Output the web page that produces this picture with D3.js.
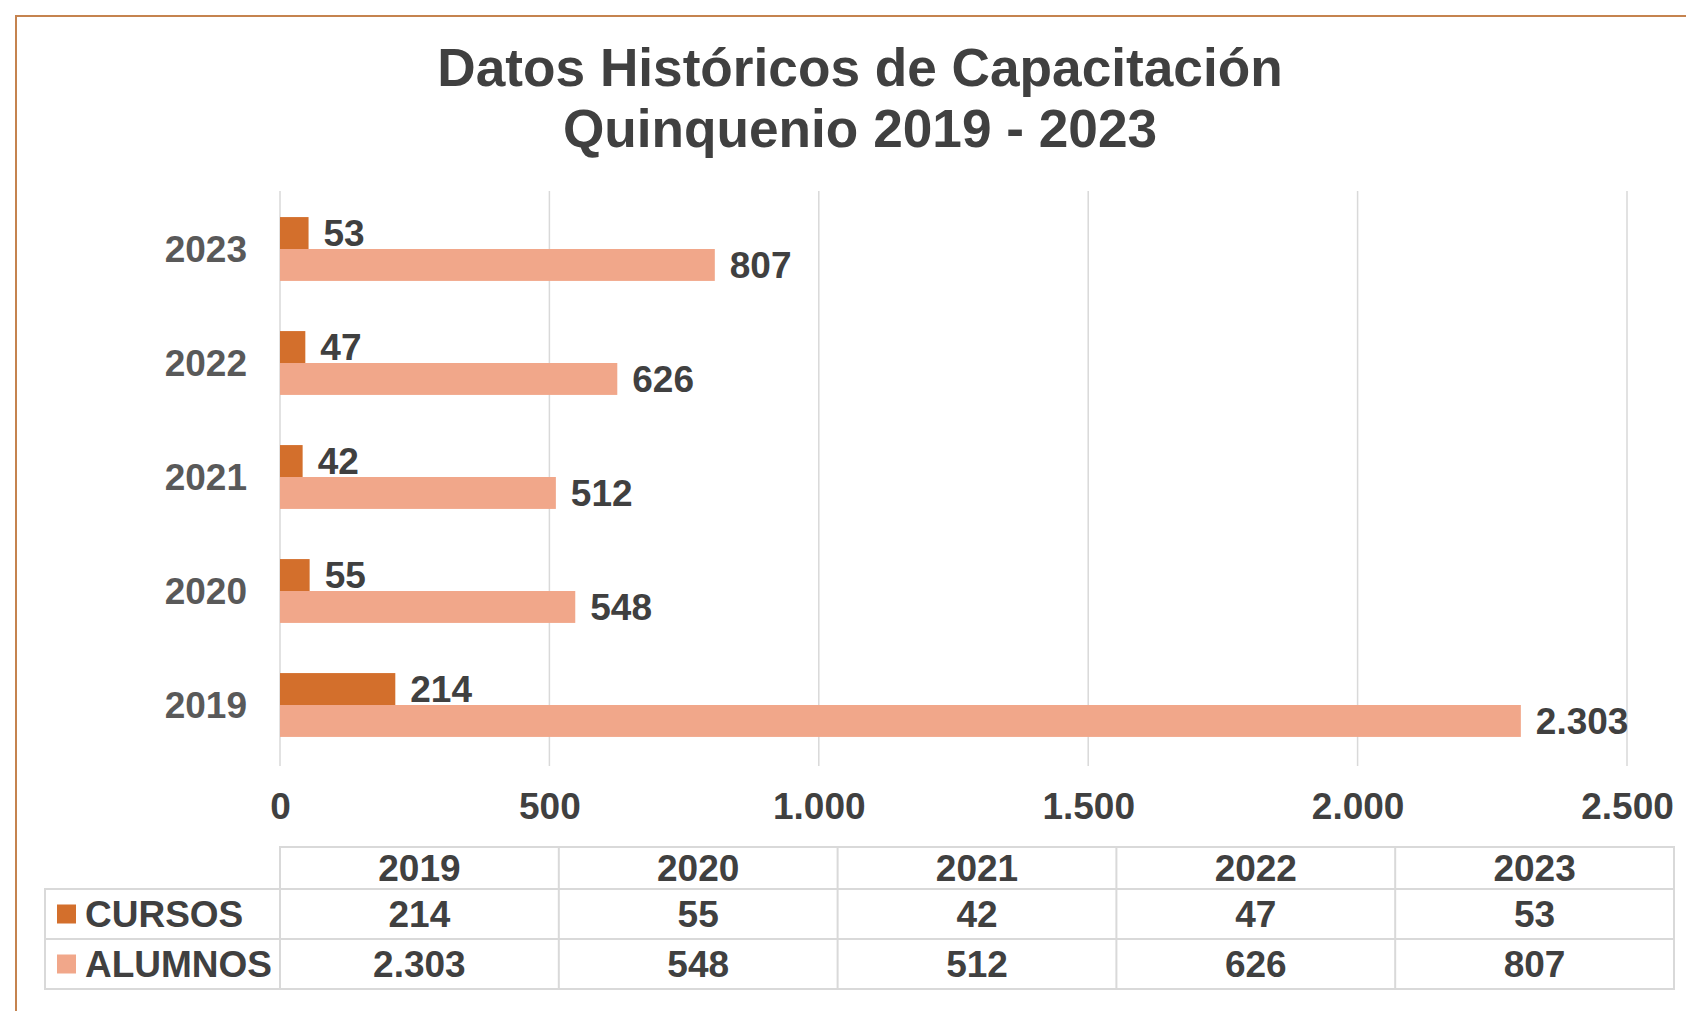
<!DOCTYPE html>
<html>
<head>
<meta charset="utf-8">
<script src="https://cdn.jsdelivr.net/npm/d3@7"></script>
<style>
html,body{margin:0;padding:0;background:#fff;}
svg{display:block;}
text{font-family:"Liberation Sans",Arial,sans-serif;font-weight:bold;}
</style>
</head>
<body>
<svg id="chart" width="1686" height="1011"></svg>
<script>
const titleLines = ["Datos Históricos de Capacitación", "Quinquenio 2019 - 2023"];
const years = ["2019", "2020", "2021", "2022", "2023"];
const seriesNames = ["CURSOS", "ALUMNOS"];
const cursos = [214, 55, 42, 47, 53];
const alumnos = [2303, 548, 512, 626, 807];
const xTicks = [0, 500, 1000, 1500, 2000, 2500];
const colors = ["#D36F2C", "#F1A78A"];

const svg = d3.select("#chart");
const W = 1686, H = 1011;
const FS = 37;
const locale = d3.formatLocale({decimal: ",", thousands: ".", grouping: [3], currency: ["", ""]});
const fmt = locale.format(",");

// frame
svg.append("rect").attr("x", 16).attr("y", 16).attr("width", W + 20).attr("height", H + 20)
  .attr("fill", "none").attr("stroke", "#C5834F").attr("stroke-width", 2);

// title
svg.append("g").selectAll("text").data(titleLines).join("text")
  .attr("x", 860).attr("y", (d, i) => 86 + i * 61)
  .attr("text-anchor", "middle").attr("font-size", 53.2).attr("fill", "#404040")
  .text(d => d);

const plotTop = 191, plotBottom = 766;
const x = d3.scaleLinear().domain([0, 2500]).range([280, 1627]);
const y = d3.scaleBand().domain(years.slice().reverse()).range([192, 762])
  .paddingInner(0.44).paddingOuter(0.22);
const y1 = d3.scaleBand().domain(seriesNames).range([0, y.bandwidth()]);

// grid
svg.append("g").selectAll("line").data(xTicks).join("line")
  .attr("x1", d => x(d)).attr("x2", d => x(d))
  .attr("y1", plotTop).attr("y2", plotBottom)
  .attr("stroke", "#D9D9D9").attr("stroke-width", 1.5);

// x axis labels
const xAxis = d3.axisBottom(x).tickValues(xTicks).tickFormat(fmt).tickSize(0).tickPadding(0);
const gx = svg.append("g").attr("transform", `translate(0,${plotBottom})`).call(xAxis);
gx.select(".domain").remove();
gx.selectAll("text").attr("font-size", FS).attr("fill", "#404040")
  .attr("font-family", null).attr("dy", null).attr("y", 53);

// y axis labels
const yAxis = d3.axisLeft(y).tickSize(0).tickPadding(0);
const gy = svg.append("g").attr("transform", `translate(247,0)`).call(yAxis);
gy.select(".domain").remove();
gy.selectAll("text").attr("font-size", FS).attr("fill", "#595959")
  .attr("font-family", null).attr("dy", "0.35em");

// bars
const rows = years.map((yr, i) => ({year: yr, values: [cursos[i], alumnos[i]]}));
const groups = svg.append("g").selectAll("g").data(rows).join("g")
  .attr("transform", d => `translate(0,${y(d.year)})`);
groups.selectAll("rect").data(d => d.values.map((v, k) => ({v, k}))).join("rect")
  .attr("x", x(0))
  .attr("y", d => y1(seriesNames[d.k]))
  .attr("width", d => x(d.v) - x(0))
  .attr("height", y1.bandwidth())
  .attr("fill", d => colors[d.k]);
groups.selectAll("text").data(d => d.values.map((v, k) => ({v, k}))).join("text")
  .attr("x", d => x(d.v) + 15)
  .attr("y", d => y1(seriesNames[d.k]) + y1.bandwidth() / 2)
  .attr("dy", "0.35em")
  .attr("font-size", FS).attr("fill", "#404040")
  .text(d => fmt(d.v));

// data table
const tLeft = 45, colX0 = 280, colW = 278.8;
const rowYs = [847, 889, 939, 989];
const tbl = svg.append("g").attr("stroke", "#D9D9D9").attr("stroke-width", 2).attr("fill", "none");
const colScale = d3.scaleBand().domain(years).range([colX0, colX0 + colW * years.length]);
tbl.append("rect").attr("x", colX0).attr("y", rowYs[0]).attr("width", colW * years.length).attr("height", rowYs[1] - rowYs[0]);
tbl.append("rect").attr("x", tLeft).attr("y", rowYs[1]).attr("width", colX0 + colW * years.length - tLeft).attr("height", rowYs[3] - rowYs[1]);
tbl.append("line").attr("x1", tLeft).attr("x2", colX0 + colW * years.length).attr("y1", rowYs[2]).attr("y2", rowYs[2]);
tbl.selectAll("line.c").data(years).join("line").attr("class", "c")
  .attr("x1", d => colScale(d)).attr("x2", d => colScale(d))
  .attr("y1", rowYs[0]).attr("y2", rowYs[3]);

const txt = svg.append("g").attr("font-size", FS).attr("fill", "#404040").attr("text-anchor", "middle");
txt.selectAll("text.h").data(years).join("text").attr("class", "h")
  .attr("x", d => colScale(d) + colScale.bandwidth() / 2)
  .attr("y", (rowYs[0] + rowYs[1]) / 2).attr("dy", "0.35em").text(d => d);
[cursos, alumnos].forEach((vals, r) => {
  txt.append("g").selectAll("text").data(vals).join("text")
    .attr("x", (d, i) => colScale(years[i]) + colScale.bandwidth() / 2)
    .attr("y", (rowYs[r + 1] + rowYs[r + 2]) / 2).attr("dy", "0.35em")
    .text(d => fmt(d));
});
// legend keys in table
seriesNames.forEach((s, r) => {
  const cy = (rowYs[r + 1] + rowYs[r + 2]) / 2;
  svg.append("rect").attr("x", 57).attr("y", cy - 9.5).attr("width", 19).attr("height", 19).attr("fill", colors[r]);
  svg.append("text").attr("x", 85).attr("y", cy).attr("dy", "0.35em")
    .attr("font-size", FS).attr("fill", "#404040").text(s);
});
</script>
</body>
</html>
